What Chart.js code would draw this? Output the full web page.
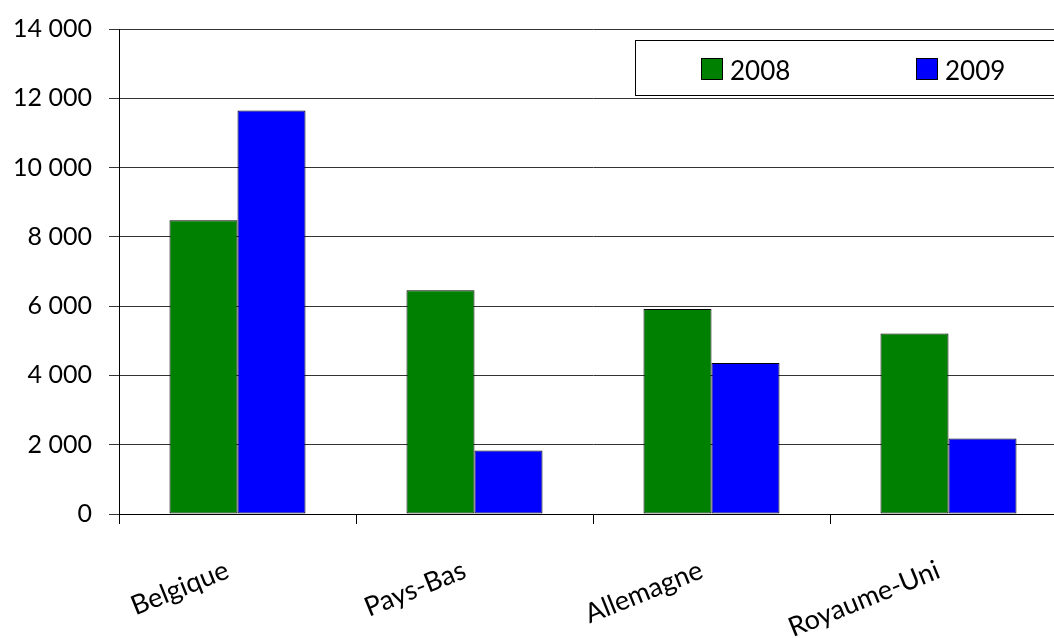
<!DOCTYPE html>
<html>
<head>
<meta charset="utf-8">
<script src="https://cdn.jsdelivr.net/npm/chart.js@4"></script>
<style>
  html, body { margin: 0; padding: 0; background: #fff; overflow: hidden; }
  #wrap { position: absolute; left: 0; top: 0; width: 1070px; height: 639px; }
</style>
</head>
<body>
<div id="wrap"><canvas id="chart"></canvas></div>
<script>
const categories = ["Belgique", "Pays-Bas", "Allemagne", "Royaume-Uni"];
const seriesNames = ["2008", "2009"];
const values2008 = [8480, 6460, 5920, 5210];
const values2009 = [11650, 1830, 4360, 2180];
const yTicks = [0, 2000, 4000, 6000, 8000, 10000, 12000, 14000];

const FONT = "Lato, 'Open Sans', sans-serif";

// boxed legend drawn inside the plot area, like the original
const boxLegend = {
    id: "boxLegend",
    afterDraw(chart) {
        const ctx = chart.ctx;
        ctx.save();
        ctx.strokeStyle = "#000";
        ctx.lineWidth = 1;
        ctx.fillStyle = "#fff";
        ctx.fillRect(635.5, 40.5, 440, 55);
        ctx.strokeRect(635.5, 40.5, 440, 55);
        const xs = [701, 916];
        chart.data.datasets.forEach((ds, i) => {
            ctx.fillStyle = ds.backgroundColor;
            ctx.fillRect(xs[i] + 0.5, 58.5, 21, 21);
            ctx.strokeRect(xs[i] + 0.5, 58.5, 21, 21);
            ctx.fillStyle = "#000";
            ctx.font = "26px " + FONT;
            ctx.textBaseline = "alphabetic";
            ctx.fillText(ds.label, xs[i] + 29, 80);
        });
        ctx.restore();
    },
};

new Chart(document.getElementById("chart"), {
    type: "bar",
    data: {
        labels: categories,
        datasets: [
            { label: seriesNames[0], data: values2008, backgroundColor: "#008000", borderColor: "#000", borderWidth: 1, borderSkipped: false },
            { label: seriesNames[1], data: values2009, backgroundColor: "#0000ff", borderColor: "#000", borderWidth: 1, borderSkipped: false },
        ],
    },
    options: {
        responsive: true,
        maintainAspectRatio: false,
        animation: false,
        layout: { padding: { top: 29, right: 3, left: 0, bottom: 0 } },
        datasets: { bar: { categoryPercentage: 0.574, barPercentage: 1.0 } },
        plugins: { legend: { display: false }, tooltip: { enabled: false } },
        scales: {
            x: {
                grid: { offset: true, drawOnChartArea: false, drawTicks: true, tickLength: 10, color: "#000" },
                border: { color: "#000", width: 1 },
                ticks: {
                    color: "#000",
                    font: { family: FONT, size: 27 },
                    minRotation: 22,
                    maxRotation: 22,
                    padding: 30,
                    labelOffset: -10,
                },
                afterFit(scale) { scale.height = 125; },
            },
            y: {
                min: 0,
                max: 14000,
                afterBuildTicks(scale) { scale.ticks = yTicks.map((v) => ({ value: v })); },
                grid: { color: "#333", tickLength: 10, lineWidth: 1 },
                border: { color: "#000", width: 1 },
                ticks: {
                    color: "#000",
                    font: { family: FONT, size: 25 },
                    padding: 17,
                    callback: (v) => v.toLocaleString("fr-FR").replace(/\s/g, " "),
                },
                afterFit(scale) {
                    scale.width = 119;
                    scale.paddingTop = 0;
                    scale.paddingBottom = 0;
                },
            },
        },
    },
    plugins: [boxLegend],
});
</script>
</body>
</html>
